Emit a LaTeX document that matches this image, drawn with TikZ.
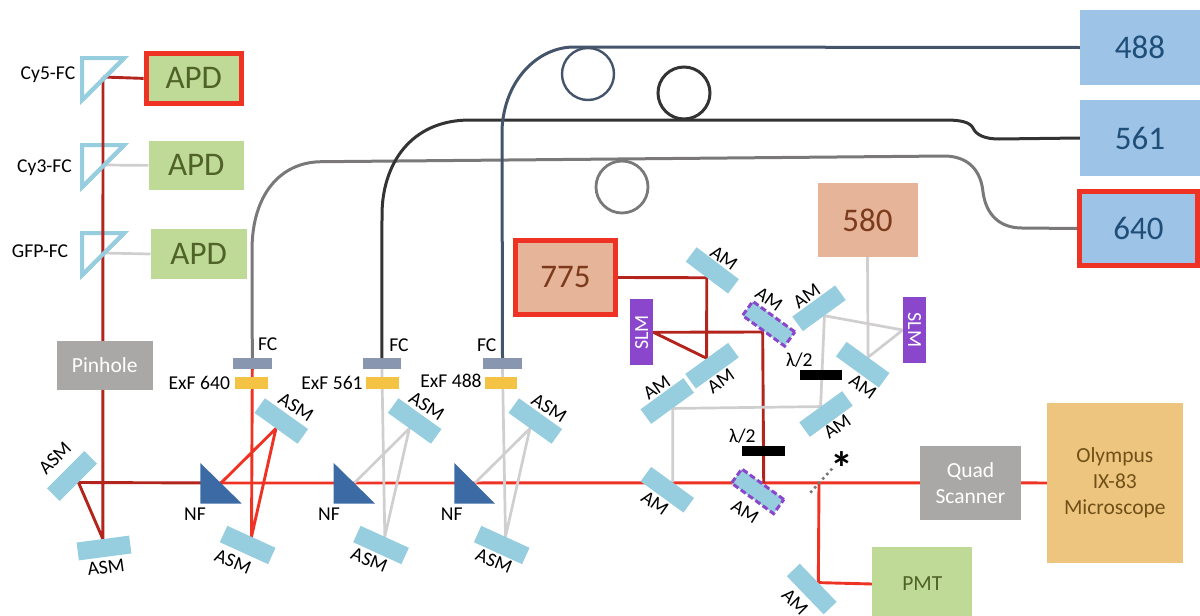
\documentclass[tikz,border=0pt]{standalone}
\usepackage{xcolor}
\usepackage{fontspec}
\usetikzlibrary{backgrounds}
\setmainfont{Carlito}
\definecolor{BeamRed}{RGB}{238,50,36}
\definecolor{BeamDark}{RGB}{178,36,28}
\definecolor{BeamGrey}{RGB}{208,206,206}
\definecolor{MirrorBlue}{RGB}{150,205,223}
\definecolor{PrismBlue}{RGB}{59,106,165}
\definecolor{DetGreen}{RGB}{191,217,150}
\definecolor{DetText}{RGB}{79,98,40}
\definecolor{LaserBlue}{RGB}{157,195,230}
\definecolor{LaserBlueText}{RGB}{31,78,121}
\definecolor{LaserTan}{RGB}{230,180,152}
\definecolor{LaserTanText}{RGB}{124,58,28}
\definecolor{BlockGrey}{RGB}{170,168,166}
\definecolor{ScopeTan}{RGB}{237,197,127}
\definecolor{ScopeText}{RGB}{112,80,24}
\definecolor{SlmPurple}{RGB}{139,71,204}
\definecolor{FcSlate}{RGB}{136,150,176}
\definecolor{ExfYellow}{RGB}{245,195,67}
\definecolor{Fiber488}{RGB}{68,84,106}
\definecolor{Fiber561}{RGB}{51,51,51}
\definecolor{Fiber640}{RGB}{122,120,120}
\begin{document}
\begin{tikzpicture}[x=1pt,y=-1pt,
  mirror/.style={fill=MirrorBlue,minimum width=53pt,minimum height=18pt,inner sep=0pt},
  dashmirror/.style={mirror,draw=SlmPurple,line width=3pt,dash pattern=on 6pt off 3pt,minimum width=52pt,minimum height=17.5pt},
  lbl/.style={font=\fontsize{19.6}{22}\selectfont,inner sep=0pt},
  det/.style={fill=DetGreen,text=DetText,inner sep=0pt,font=\fontsize{33}{36}\selectfont},
  laser/.style={inner sep=0pt,font=\fontsize{33}{36}\selectfont},
  block/.style={fill=BlockGrey,text=white,inner sep=0pt,align=center,font=\fontsize{21.5}{26}\selectfont},
  slm/.style={fill=SlmPurple,text=white,inner sep=0pt,minimum width=66pt,minimum height=23pt,font=\fontsize{20}{22}\selectfont},
  plate/.style={fill=black,inner sep=0pt,minimum width=42.5pt,minimum height=9.5pt},
  fcblock/.style={fill=FcSlate,inner sep=0pt,minimum height=11pt},
  exf/.style={fill=ExfYellow,inner sep=0pt,minimum height=11.5pt},
  loopfib/.style={draw,circle,inner sep=0pt,minimum size=52pt},
  beam/.style={line width=2.9pt,BeamRed},
  beamd/.style={line width=2.9pt,BeamDark},
  beamg/.style={line width=2.7pt,BeamGrey},
  fib/.style={line width=3pt},
  dichro/.style={draw=MirrorBlue,line width=4pt,miter limit=10},
  prism/.style={fill=PrismBlue}
]
\useasboundingbox (0,0) rectangle (1200,616);

\node[det,draw=BeamRed,line width=5pt,minimum width=95.5pt,minimum height=50.3pt] (apd5) at (193.8,78.4) {APD};
\node[det,minimum width=95.5pt,minimum height=49.5pt] (apd3) at (196.3,165.4) {APD};
\node[det,minimum width=96pt,minimum height=50pt] (apdg) at (198.7,254) {APD};
\node[lbl] (lcy5) at (48,75) {Cy5-FC};
\node[lbl] (lcy3) at (44.5,168) {Cy3-FC};
\node[lbl] (lgfp) at (40,251) {GFP-FC};
\coordinate (tap5) at (103,77);
\coordinate (tap3) at (103,165);
\coordinate (tapg) at (103,253);
\draw[dichro] (124.2,58) -- (82,100.2);
\draw[dichro] (124.2,145) -- (82,187.2);
\draw[dichro] (124.2,233) -- (82,275.2);

\node[block,minimum width=96pt,minimum height=49pt] (pinhole) at (104.7,365.5) {Pinhole};
\node[block,minimum width=100.4pt,minimum height=73.7pt] (quad) at (970.5,482.85) {Quad\\Scanner};
\node[fill=ScopeTan,text=ScopeText,inner sep=0pt,align=center,minimum width=135.7pt,minimum height=160pt,font=\fontsize{21.5}{26}\selectfont] (scope) at (1114.8,483) {Olympus\\IX-83\\Microscope};
\node[fill=DetGreen,text=DetText,inner sep=0pt,minimum width=100pt,minimum height=74pt,font=\fontsize{21.5}{26}\selectfont] (pmt) at (922.3,584) {PMT};

\node[laser,fill=LaserBlue,text=LaserBlueText,minimum width=120pt,minimum height=75.5pt] (l488) at (1140,47.5) {488};
\node[laser,fill=LaserBlue,text=LaserBlueText,minimum width=120pt,minimum height=76pt] (l561) at (1140,138) {561};
\node[laser,fill=LaserBlue,text=LaserBlueText,draw=BeamRed,line width=5pt,minimum width=118pt,minimum height=74pt] (l640) at (1138.5,228.5) {640};
\node[laser,fill=LaserTan,text=LaserTanText,minimum width=100pt,minimum height=73.7pt] (l580) at (867.5,219.9) {580};
\node[laser,fill=LaserTan,text=LaserTanText,draw=BeamRed,line width=5pt,minimum width=99.5pt,minimum height=73.4pt] (l775) at (565.4,277.5) {775};

\node[loopfib,draw=Fiber488,line width=2.4pt] (loop488) at (588,74) {};
\node[loopfib,draw=Fiber561,line width=3pt] (loop561) at (684,93) {};
\node[loopfib,draw=Fiber640,line width=2.8pt] (loop640) at (622,187) {};

\node[fcblock,minimum width=38.7pt] (fc1) at (252.3,363.5) {};
\node[fcblock,minimum width=37.7pt] (fc2) at (381.9,363.5) {};
\node[fcblock,minimum width=39pt] (fc3) at (502.5,363.5) {};
\node[exf,minimum width=33pt] (exf1) at (251.5,382.8) {};
\node[exf,minimum width=33pt] (exf2) at (382.5,382.8) {};
\node[exf,minimum width=32pt] (exf3) at (501,382.8) {};
\node[lbl] (lfc1) at (267.7,344) {FC};
\node[lbl] (lfc2) at (399,345) {FC};
\node[lbl] (lfc3) at (486.7,345) {FC};
\node[lbl] (lexf1) at (199.3,382.7) {ExF 640};
\node[lbl] (lexf2) at (332,383) {ExF 561};
\node[lbl] (lexf3) at (451,380.7) {ExF 488};

\coordinate (nf1h) at (221,483);
\coordinate (nf2h) at (354.3,483);
\coordinate (nf3h) at (475,483);
\fill[prism] (200.3,463) -- (241.7,503.5) -- (200.3,503.5) -- cycle;
\fill[prism] (333.7,463) -- (375,503.5) -- (333.7,503.5) -- cycle;
\fill[prism] (454.3,463) -- (495,503.5) -- (454.3,503.5) -- cycle;
\node[lbl] (lnf1) at (195,514) {NF};
\node[lbl] (lnf2) at (329,514) {NF};
\node[lbl] (lnf3) at (451.7,514) {NF};

\node[mirror,rotate=45] (asm1) at (72,476) {};
\node[mirror,rotate=7.5] (asm2) at (104,548) {};
\node[mirror,rotate=-35.6] (asmt1) at (281.3,421) {};
\node[mirror,rotate=-24.5] (asmb1) at (247.7,545) {};
\node[mirror,rotate=-35.6] (asmt2) at (414.7,421) {};
\node[mirror,rotate=-24.5] (asmb2) at (381,545) {};
\node[mirror,rotate=-35.6] (asmt3) at (535.3,421) {};
\node[mirror,rotate=-24.5] (asmb3) at (501.7,545) {};
\node[lbl,rotate=45] (lasm1) at (55,458) {ASM};
\node[lbl,rotate=7.5] (lasm2) at (106,567) {ASM};
\node[lbl,rotate=-32] (lasmt1) at (296,407) {ASM};
\node[lbl,rotate=-22] (lasmb1) at (233,561.7) {ASM};
\node[lbl,rotate=-32] (lasmt2) at (426.7,406) {ASM};
\node[lbl,rotate=-22] (lasmb2) at (369.3,560) {ASM};
\node[lbl,rotate=-32] (lasmt3) at (549.3,408) {ASM};
\node[lbl,rotate=-22] (lasmb3) at (494,561) {ASM};

\node[mirror,rotate=-37] (am1) at (712.3,270.4) {};
\node[dashmirror,rotate=-36] (am2) at (768.7,323.7) {};
\node[mirror,rotate=36] (am3) at (819,308.3) {};
\node[mirror,rotate=-36] (am4) at (862.7,364.7) {};
\node[mirror,rotate=36] (am5) at (712,365.7) {};
\node[mirror,rotate=36] (am6) at (667.3,401) {};
\node[mirror,rotate=36] (am7) at (826,414) {};
\node[mirror,rotate=-36] (am8) at (667.3,489.7) {};
\node[dashmirror,rotate=-36] (am9) at (757.7,491.3) {};
\node[mirror,rotate=-46] (am10) at (811.7,589) {};
\node[lbl,rotate=-35] (lam1) at (724,258) {AM};
\node[lbl,rotate=-35] (lam2) at (769,299) {AM};
\node[lbl,rotate=35] (lam3) at (806.7,296) {AM};
\node[lbl,rotate=-35] (lam4) at (863,386.7) {AM};
\node[lbl,rotate=35] (lam5) at (720.7,381) {AM};
\node[lbl,rotate=35] (lam6) at (656.7,387.7) {AM};
\node[lbl,rotate=35] (lam7) at (837.3,426.7) {AM};
\node[lbl,rotate=-35] (lam8) at (655,503.3) {AM};
\node[lbl,rotate=-32] (lam9) at (745,511.7) {AM};
\node[lbl,rotate=-45] (lam10) at (795,601.7) {AM};

\node[slm,rotate=90] (slm1) at (641.7,332.3) {SLM};
\node[slm,rotate=-90] (slm2) at (914.5,330) {SLM};
\node[plate] (wp1) at (821.2,375.2) {};
\node[plate] (wp2) at (763.5,450.8) {};
\node[lbl] (lwp1) at (799.3,360) {λ/2};
\node[lbl] (lwp2) at (742.3,436) {λ/2};
\node[inner sep=0pt,font=\fontsize{46}{48}\selectfont\bfseries] (star) at (841.7,468) {*};
\coordinate (tapp) at (819,483);
\coordinate (dotend) at (810.3,492.7);
\coordinate (dottop) at (832.7,468);

\begin{scope}[on background layer]
\draw[dichro] (82,58) -- (124.2,58) -- (82,100.2) -- cycle;
\draw[dichro] (82,145) -- (124.2,145) -- (82,187.2) -- cycle;
\draw[dichro] (82,233) -- (124.2,233) -- (82,275.2) -- cycle;
\draw[beamd] (tap5) -- (apd5.west);
\draw[beamg] (tap3) -- (apd3.west);
\draw[beamg] (tapg) -- (apdg.west);
\draw[beamd] (tap5) -- (asm2.north) -- (asm1.south) -- (nf1h);
\draw[beam] (nf1h) -- (quad.west);
\draw[beam] (quad.east) -- (scope.west);
\draw[beam] (nf1h) -- (asmt1.south) -- (asmb1.north) -- (fc1.south);
\draw[beamg] (nf2h) -- (asmt2.south) -- (asmb2.north) -- (fc2.south);
\draw[beamg] (nf3h) -- (asmt3.south) -- (asmb3.north) -- (fc3.south);
\draw[beamd] (l775.east) -- (am1.south) -- (am5.north) -- (slm1.south) -- (am2.south) -- (am9.north);
\draw[beamg] (l580.south) -- (am4.north) -- (slm2.south) -- (am3.south) -- (am7.north) -- (am6.south) -- (am8.north);
\draw[beam] (tapp) -- (am10.north) -- (pmt.west);
\draw[line width=2.6pt,dash pattern=on 2.5pt off 3.5pt,Fiber640] (dotend) -- (dottop);
\draw[fib,Fiber640] (fc1.north) -- (252,250) .. controls (252,195) and (280,161.7) .. (322,161.7) -- (946,156) .. controls (970,157) and (981,172) .. (983,192) .. controls (986,215) and (1000,228) .. (1022,228) -- (l640.west);
\draw[fib,Fiber561] (fc2.north) -- (382,215) .. controls (382,165) and (410,120) .. (470,120) -- (946,120) .. controls (960,120) and (970,122) .. (973,128) .. controls (976,135) and (985,139) .. (999,139) -- (l561.west);
\draw[fib,Fiber488] (fc3.north) -- (502,130) .. controls (504,80) and (538,47) .. (574,47) -- (l488.west);
\end{scope}
\end{tikzpicture}
\end{document}
